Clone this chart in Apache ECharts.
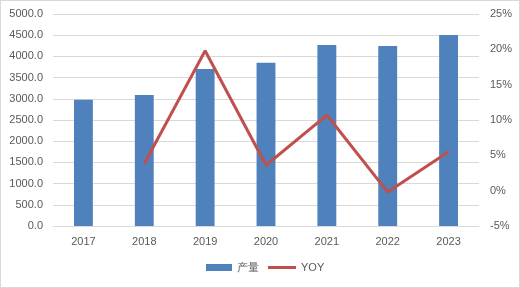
<!DOCTYPE html>
<html><head><meta charset="utf-8">
<script src="https://cdn.jsdelivr.net/npm/echarts@6/dist/echarts.min.js"></script>
<style>html,body{margin:0;padding:0;background:#fff}#c{width:520px;height:288px;box-sizing:border-box;border:1px solid #d9d9d9}</style>
</head><body><div id="c"></div>
<script>
const categories = ['2017','2018','2019','2020','2021','2022','2023'];
const output = [2980, 3090, 3700, 3850, 4270, 4245, 4505];
const yoy = [null, 3.8, 19.8, 3.6, 10.7, -0.2, 5.5];
const leftTicks = {min: 0, max: 5000, interval: 500};
const rightTicks = {min: -5, max: 25, interval: 5};

const font = 'Liberation Sans, Arial, sans-serif';
const legendText = {color: '#595959', fontSize: 11, fontFamily: font};
const chart = echarts.init(document.getElementById('c'));
chart.setOption({
  animation: false,
  textStyle: {fontFamily: font},
  grid: {left: 52, right: 40, top: 13, bottom: 61, containLabel: false},
  legend: [{
    bottom: 9, left: 200, itemWidth: 26, itemHeight: 7,
    textStyle: legendText,
    data: [{name: '产量', icon: 'rect'}]
  }, {
    bottom: 9, left: 262, itemWidth: 28, itemHeight: 3,
    textStyle: legendText,
    data: [{name: 'YOY', icon: 'rect'}]
  }],
  xAxis: {
    type: 'category', data: categories,
    axisLine: {lineStyle: {color: '#d9d9d9'}},
    axisTick: {show: false},
    axisLabel: {color: '#595959', fontSize: 11, margin: 10}
  },
  yAxis: [{
    type: 'value', min: leftTicks.min, max: leftTicks.max, interval: leftTicks.interval,
    axisLine: {show: false}, axisTick: {show: false},
    splitLine: {lineStyle: {color: '#d9d9d9'}},
    axisLabel: {color: '#595959', fontSize: 11, margin: 10, formatter: v => v.toFixed(1)}
  }, {
    type: 'value', min: rightTicks.min, max: rightTicks.max, interval: rightTicks.interval,
    axisLine: {show: false}, axisTick: {show: false},
    splitLine: {show: false},
    axisLabel: {color: '#595959', fontSize: 11, margin: 11, formatter: v => v + '%'}
  }],
  series: [{
    name: '产量', type: 'bar', data: output, barWidth: '31%',
    itemStyle: {color: '#4f81bd'}
  }, {
    name: 'YOY', type: 'line', yAxisIndex: 1, data: yoy,
    showSymbol: false, symbol: 'none',
    lineStyle: {color: '#c0504d', width: 3},
    itemStyle: {color: '#c0504d'}
  }]
});
</script></body></html>
